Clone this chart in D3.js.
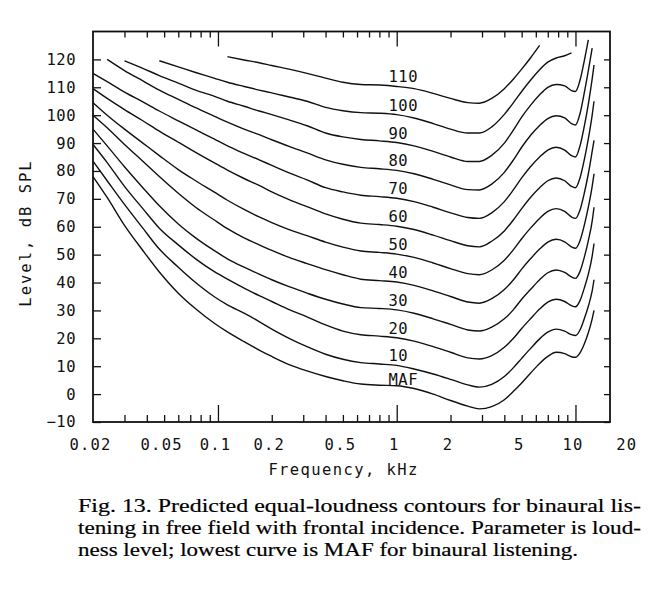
<!DOCTYPE html>
<html><head><meta charset="utf-8">
<script src="https://cdn.jsdelivr.net/npm/d3@7"></script>
<style>body{margin:0;background:#fff} svg{display:block}</style>
</head><body>
<svg id="chart" width="668" height="596"></svg>
<script>
// ---------------- data ----------------
const freqKHz = [0.02,0.024,0.03,0.038,0.047,0.06,0.075,0.095,0.113,0.14,0.17,0.2,0.25,0.315,0.4,0.5,0.63,0.8,1,1.25,1.6,2,2.5,2.9,3.4,4,4.5,5,5.6,6.3,7,7.8,8.7,9.5,10,10.6,11.2,11.8,12.4,12.7];

const levelsMAF = [78,70.5,60.5,51.5,43.8,36.2,30.6,25.5,22.3,18.8,15.8,13.5,10.6,8.3,6.3,4.8,3.6,3.2,3,2,0,-2.3,-4.3,-5.3,-4.5,-2,1,4,7.5,11,13.5,15,14.5,13.4,13.2,14.8,18,22,27,30];
const levels10 = [83.5,76.5,68,59.5,52,45.5,40,35,32,29,26,23.3,20,17,14.3,12.5,11.3,10.8,10.3,9,7.2,5.3,3.3,2.5,3.5,6.3,9.5,12.8,16.3,19.8,22.2,23.3,22.6,21.3,21,23,27,31.5,37,41];
const levels20 = [89.5,83,74.5,66.5,59.5,53.5,48.5,44,41.2,38,35.3,33.2,30.3,27.7,24.8,22.6,21.3,20.8,20.2,19,17,15,13,12.6,13.8,16.8,20,23.5,27,30.5,33,34,33.2,31.7,31.3,33.5,38,43,49.5,54];
const levels30 = [95,89,81.5,74,67.5,61,56,51.5,48.5,45.5,43,41,38.5,36.2,34,32.3,31,30.7,30.2,29,27,25,23,22.6,24,27,30.3,34,37.5,41,43.5,44.5,43.6,42,41.5,44,49,55,62,67];
const levels40 = [100,95.5,89.5,83.5,78,72,67,62.5,59.3,56,53.5,51.5,49,46.8,44.6,42.8,41.2,40.7,40.2,39,37,35,33,32.6,34.2,37.5,41,44.8,48.5,52,54.5,55.5,54.6,52.8,52.3,55,60.5,67,74.5,79];
const levels50 = [104.5,100,95,90,85.5,80.5,76.5,72.5,69.5,66.2,63.5,61.5,59,56.8,54.5,52.7,51.3,50.8,50.2,49,47,45,43.2,42.8,44.5,48,51.8,55.7,59.5,63,65.5,66.5,65.5,63.5,63,66,72,79,87,91];
const levels60 = [109.5,106,102,98,94.3,90.3,86.7,83,80.3,77.3,74.8,72.5,69.7,67.2,64.6,62.7,61.3,60.8,60.2,59,57,55,53.2,52.8,54.8,58.5,62.5,66.5,70.5,74,76.5,77.5,76.5,74.5,74,77.5,84,91.5,100,105];
const levels70 = [115,112,108.3,104.8,101.5,98,94.8,91.5,89,86.3,84,82,79.3,76.8,74,72.5,71.3,70.8,70.2,69,67,65,63.3,63,65,69,73.3,77.5,81.5,85,87.5,88.5,87.5,85.5,85,89,96,104,113,118];
const levels80 = [null,120,116,112.3,109,105.7,102.7,99.7,97.5,95,93,91.2,88.8,86.5,84,82.4,81.3,80.8,80.2,79,77,75,73.3,73.2,75.3,79.5,84,88.5,92.7,96.3,98.8,99.8,99,97,96.5,100.5,108,116,124,null];
const levels90 = [null,null,119.5,116.8,114.2,111.5,109,106.8,105,103.2,101.5,100.2,98.3,96.2,93.6,92.2,91.3,90.8,90.2,89,87,85,83.4,83.4,85.6,90,94.7,99.3,103.5,107.3,110,111,110.5,108.8,108.5,112.5,119.5,127,null,null];
const levels100 = [null,null,null,null,119.5,117.3,115.3,113.3,111.8,110.3,109,108,106.5,105,102.8,101.6,100.9,100.7,100.2,99,97,95,93.6,93.6,95.8,100.3,104.5,108.5,112.5,116.3,119,120.5,121.3,122.3,null,null,null,null,null,null];
const levels110 = [null,null,null,null,null,null,null,null,121,119.8,118.8,117.8,116.5,115,113.3,111.8,111,110.8,110.3,109.5,107.8,106,104.5,104.3,106,109.5,113,116.5,120.5,125,null,null,null,null,null,null,null,null,null,null];

const curveNames = ["MAF","10","20","30","40","50","60","70","80","90","100","110"];
const curveLevels = [levelsMAF,levels10,levels20,levels30,levels40,levels50,levels60,levels70,levels80,levels90,levels100,levels110];

const yTickValues = [-10,0,10,20,30,40,50,60,70,80,90,100,110,120];
const xLabelValues = [0.02,0.05,0.1,0.2,0.5,1,2,5,10,20];
const xLabelTexts = ["0.02","0.05","0.1","0.2","0.5","1","2","5","10","20"];
const xMinorTicks = [0.03,0.04,0.05,0.06,0.07,0.08,0.09,0.2,0.3,0.4,0.5,0.6,0.7,0.8,0.9,2,3,4,5,6,7,8,9];
const xMajorTicks = [0.1,1,10];

const xTitle = "Frequency, kHz";
const yTitle = "Level, dB SPL";
const captionLines = [
  "Fig. 13. Predicted equal-loudness contours for binaural lis-",
  "tening in free field with frontal incidence. Parameter is loud-",
  "ness level; lowest curve is MAF for binaural listening."
];

// ---------------- layout ----------------
const svg = d3.select("#chart");
const L = 93, R = 610, T = 31.5, B = 422;
const x = d3.scaleLog().domain([0.02, 15.6]).range([L, R]);
const y = d3.scaleLinear().domain([-10, 130]).range([B, T]);
const mono = "'DejaVu Sans Mono', 'Liberation Mono', monospace";
const ink = "#111";

function clean(g){ g.select(".domain").remove(); g.selectAll(".tick line").attr("stroke", ink).attr("stroke-width", 1.3); }

// bottom ticks
svg.append("g").attr("transform", `translate(0,${B})`)
  .call(d3.axisBottom(x).tickValues(xMinorTicks).tickSize(-7).tickFormat("")).call(clean);
svg.append("g").attr("transform", `translate(0,${B})`)
  .call(d3.axisBottom(x).tickValues(xMajorTicks).tickSize(-17).tickFormat("")).call(clean);
// top ticks
svg.append("g").attr("transform", `translate(0,${T})`)
  .call(d3.axisTop(x).tickValues(xMinorTicks).tickSize(-6).tickFormat("")).call(clean);
svg.append("g").attr("transform", `translate(0,${T})`)
  .call(d3.axisTop(x).tickValues(xMajorTicks).tickSize(-15).tickFormat("")).call(clean);
// x labels
const xl = svg.append("g").attr("transform", `translate(0,${B})`)
  .call(d3.axisBottom(x).tickValues(xLabelValues).tickSize(0).tickPadding(16.5).tickFormat((d,i)=>xLabelTexts[i]));
xl.select(".domain").remove();
xl.selectAll("text").attr("x", -3).attr("fill", ink)
  .style("font-family", mono).style("font-size", "15.5px").style("letter-spacing", "1.2px");

// left axis
const yl = svg.append("g").attr("transform", `translate(${L},0)`)
  .call(d3.axisLeft(y).tickValues(yTickValues).tickSize(-8).tickPadding(17));
clean(yl);
yl.selectAll("text").attr("fill", ink)
  .style("font-family", mono).style("font-size", "15.5px").style("letter-spacing", "0.5px");
// right axis ticks
svg.append("g").attr("transform", `translate(${R},0)`)
  .call(d3.axisRight(y).tickValues(yTickValues).tickSize(-6).tickFormat("")).call(clean);

// frame
svg.append("rect").attr("x", L).attr("y", T).attr("width", R - L).attr("height", B - T)
  .attr("fill", "none").attr("stroke", ink).attr("stroke-width", 1.8);

// curves
const line = d3.line()
  .defined(d => d[1] != null)
  .x(d => x(d[0])).y(d => y(d[1]))
  .curve(d3.curveMonotoneX);

const oneK = freqKHz.indexOf(1);
curveLevels.forEach((lev, i) => {
  const pts = freqKHz.map((f, j) => [f, lev[j]]);
  svg.append("path").datum(pts).attr("d", line)
    .attr("fill", "none").attr("stroke", ink).attr("stroke-width", 1.4)
    .attr("stroke-linejoin", "round");
  svg.append("text")
    .attr("x", x(0.9)).attr("y", y(lev[oneK]) - (curveNames[i] === "MAF" ? 1 : 4))
    .attr("fill", ink).style("font-family", mono).style("font-size", "15.5px")
    .style("letter-spacing", "0.5px")
    .text(curveNames[i]);
});

// axis titles
svg.append("text").attr("x", (L + R) / 2 - 8).attr("y", 475).attr("text-anchor", "middle")
  .attr("fill", ink).style("font-family", mono).style("font-size", "15.5px").style("letter-spacing", "1.4px")
  .text(xTitle);
svg.append("text").attr("transform", "translate(31,233) rotate(-90)").attr("text-anchor", "middle")
  .attr("fill", ink).style("font-family", mono).style("font-size", "15.5px").style("letter-spacing", "2px")
  .text(yTitle);

// caption
const capWidths = [563, 563, 500];
captionLines.forEach((t, i) => {
  svg.append("text").attr("x", 78).attr("y", 512 + i * 22)
    .attr("textLength", capWidths[i]).attr("lengthAdjust", "spacingAndGlyphs")
    .attr("fill", "#000").attr("stroke", "#000").attr("stroke-width", 0.2)
    .style("font-family", "'Liberation Serif', 'Times New Roman', Times, serif").style("font-size", "19.6px")
    .text(t);
});
</script>
</body></html>
